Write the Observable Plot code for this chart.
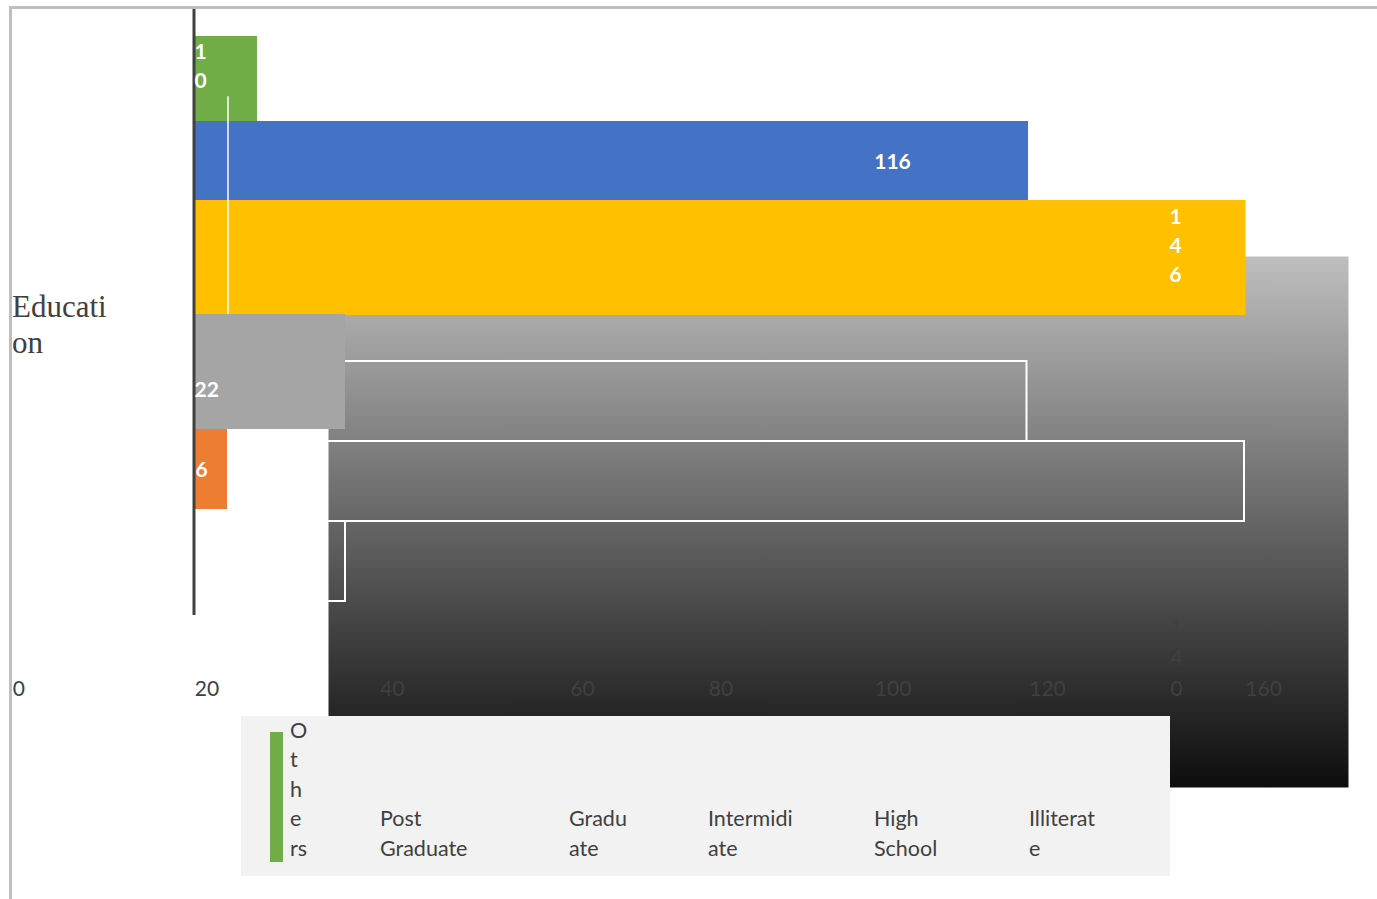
<!DOCTYPE html>
<html><head><meta charset="utf-8">
<script src="https://cdn.jsdelivr.net/npm/d3@7"></script>
<script src="https://cdn.jsdelivr.net/npm/@observablehq/plot@0.6"></script>
<style>
html,body{margin:0;padding:0;background:#fff;}
#wrap{position:relative;width:1377px;height:899px;overflow:hidden;background:#fff;}
#wrap svg{position:absolute;left:0;top:0;}
#border{position:absolute;left:9px;top:6px;width:1400px;height:920px;border-top:3px solid #bfbfbf;border-left:3px solid #bfbfbf;}
#ytitle{position:absolute;left:12px;top:289px;font-family:"Liberation Serif",serif;font-size:31px;line-height:36px;color:#404040;white-space:pre;}
#legend{position:absolute;left:241px;top:716px;width:929px;height:160px;background:#f2f2f2;}
.item{position:absolute;bottom:13px;font-family:Lato,sans-serif;font-size:21.5px;line-height:29.5px;color:#404040;white-space:pre;}
.sw{position:absolute;left:29px;top:16px;width:13px;height:130px;}
</style></head><body><div id="wrap"></div>
<script>
// ---- data ----
const categories = ["Others", "Post Graduate", "Graduate", "Intermidiate", "High School", "Illiterate"];
const values = [10, 116, 146, 22, 6, null];
const colors = ["#70ad47", "#4472c4", "#ffc000", "#a5a5a5", "#ed7d31", "#5b9bd5"];
const ghostCategories = ["Post Graduate", "Graduate", "Intermidiate"];
const tickLabels = ["0", "20", "40", "60", "80", "100", "120", "140", "160"];
const tickAt = [-24.1, 1, 26.6, 52.8, 71.9, 94.8, 116.1, 135.6, 145.9];
const stackedTicks = ["140"];
const legendLabels = ["O\nt\nh\ne\nrs", "Post\nGraduate", "Gradu\nate", "Intermidi\nate", "High\nSchool", "Illiterat\ne"];
const axisTitle = "Educati\non";

const rows = categories.map((c, i) => ({category: c, value: values[i], color: colors[i], row: i}))
  .filter(d => d.value != null);
const byCat = Object.fromEntries(rows.map(d => [d.category, d]));

// ---- styling: [insetTop, insetBottom, insetRight] ----
const barInset = {
  "Others": [-5, 0, 2.5],
  "Post Graduate": [0, 1, 0],
  "Graduate": [-1, -34, 0],
  "Intermidiate": [33, -68, 1.5],
  "High School": [68, -68, 3.5]
};
const labelStyle = {
  "Others": {atEnd: false, anchor: "start", dx: 7, dy: -17, stack: true},
  "Post Graduate": {atEnd: true, anchor: "middle", dx: -136, dy: -1.5, stack: false},
  "Graduate": {atEnd: true, anchor: "middle", dx: -70.5, dy: 2, stack: true},
  "Intermidiate": {atEnd: false, anchor: "start", dx: 7, dy: 66, stack: false},
  "High School": {atEnd: false, anchor: "start", dx: 8, dy: 66, stack: false}
};

const bar = c => {
  const d = byCat[c];
  const [t, b, r] = barInset[c];
  return Plot.rect([d], {
    x1: 0, x2: "value", y1: "row", y2: e => e.row + 1,
    fill: d.color, insetLeft: 7, insetTop: t, insetBottom: b, insetRight: r
  });
};
const label = c => {
  const s = labelStyle[c];
  return Plot.text([byCat[c]], {
    x: s.atEnd ? "value" : 0,
    y: r => r.row + 0.5,
    text: r => s.stack ? String(r.value).split("").join("\n") : String(r.value),
    textAnchor: s.anchor, dx: s.dx, dy: s.dy, lineHeight: 1.38,
    fill: "white", fontWeight: "bold", fontSize: 21, fontFamily: "Lato"
  });
};

const svg = Plot.plot({
  width: 1377, height: 899,
  marginLeft: 328, marginRight: 29, marginTop: 256, marginBottom: 112,
  x: {domain: [0, 146], range: [187, 1245.5], axis: null},
  y: {domain: [0, 7], range: [41, 601], axis: null},
  style: {background: "transparent", fontFamily: "Lato"},
  marks: [
    Plot.frame({fill: "url(#plotbg)", stroke: "none"}),
    Plot.rect(rows.filter(d => ghostCategories.includes(d.category)), {
      x1: 0, x2: "value", y1: d => d.row + 3, y2: d => d.row + 4,
      fill: "none", stroke: "white", strokeWidth: 2, insetLeft: 7, insetRight: 1.5
    }),
    bar("Others"), bar("Post Graduate"), bar("Graduate"),
    Plot.ruleX([byCat["High School"].value], {dx: -3, y1: 0.69, y2: 7, stroke: "white", strokeWidth: 1.5}),
    bar("Intermidiate"), bar("High School"),
    Plot.ruleX([0], {dx: 6.5, y1: -0.41, y2: 7.175, stroke: "#404040", strokeWidth: 3}),
    ...rows.map(d => label(d.category)),
    Plot.text(tickLabels, {
      x: (d, i) => tickAt[i], frameAnchor: "bottom", dy: -92,
      text: d => stackedTicks.includes(d) ? d.split("").join("\n") : d,
      textAnchor: "start", lineAnchor: "bottom", lineHeight: 1.45,
      fill: "#404040", fontSize: 21, fontFamily: "Lato"
    })
  ]
});
const ns = "http://www.w3.org/2000/svg";
const defs = document.createElementNS(ns, "defs");
defs.innerHTML = '<linearGradient id="plotbg" x1="0" y1="0" x2="0" y2="1"><stop offset="0" stop-color="#bebebe"/><stop offset="1" stop-color="#0d0d0d"/></linearGradient>';
svg.insertBefore(defs, svg.firstChild);

const wrap = document.getElementById("wrap");
wrap.appendChild(svg);

const border = document.createElement("div");
border.id = "border";
wrap.appendChild(border);

const yt = document.createElement("div");
yt.id = "ytitle";
yt.textContent = axisTitle;
wrap.appendChild(yt);

const legend = document.createElement("div");
legend.id = "legend";
const sw = document.createElement("div");
sw.className = "sw";
sw.style.background = colors[0];
legend.appendChild(sw);
const legendLeft = [49, 139, 328, 467, 633, 788];
legendLabels.forEach((t, i) => {
  const el = document.createElement("div");
  el.className = "item";
  el.style.left = legendLeft[i] + "px";
  el.textContent = t;
  legend.appendChild(el);
});
wrap.appendChild(legend);
</script></body></html>
